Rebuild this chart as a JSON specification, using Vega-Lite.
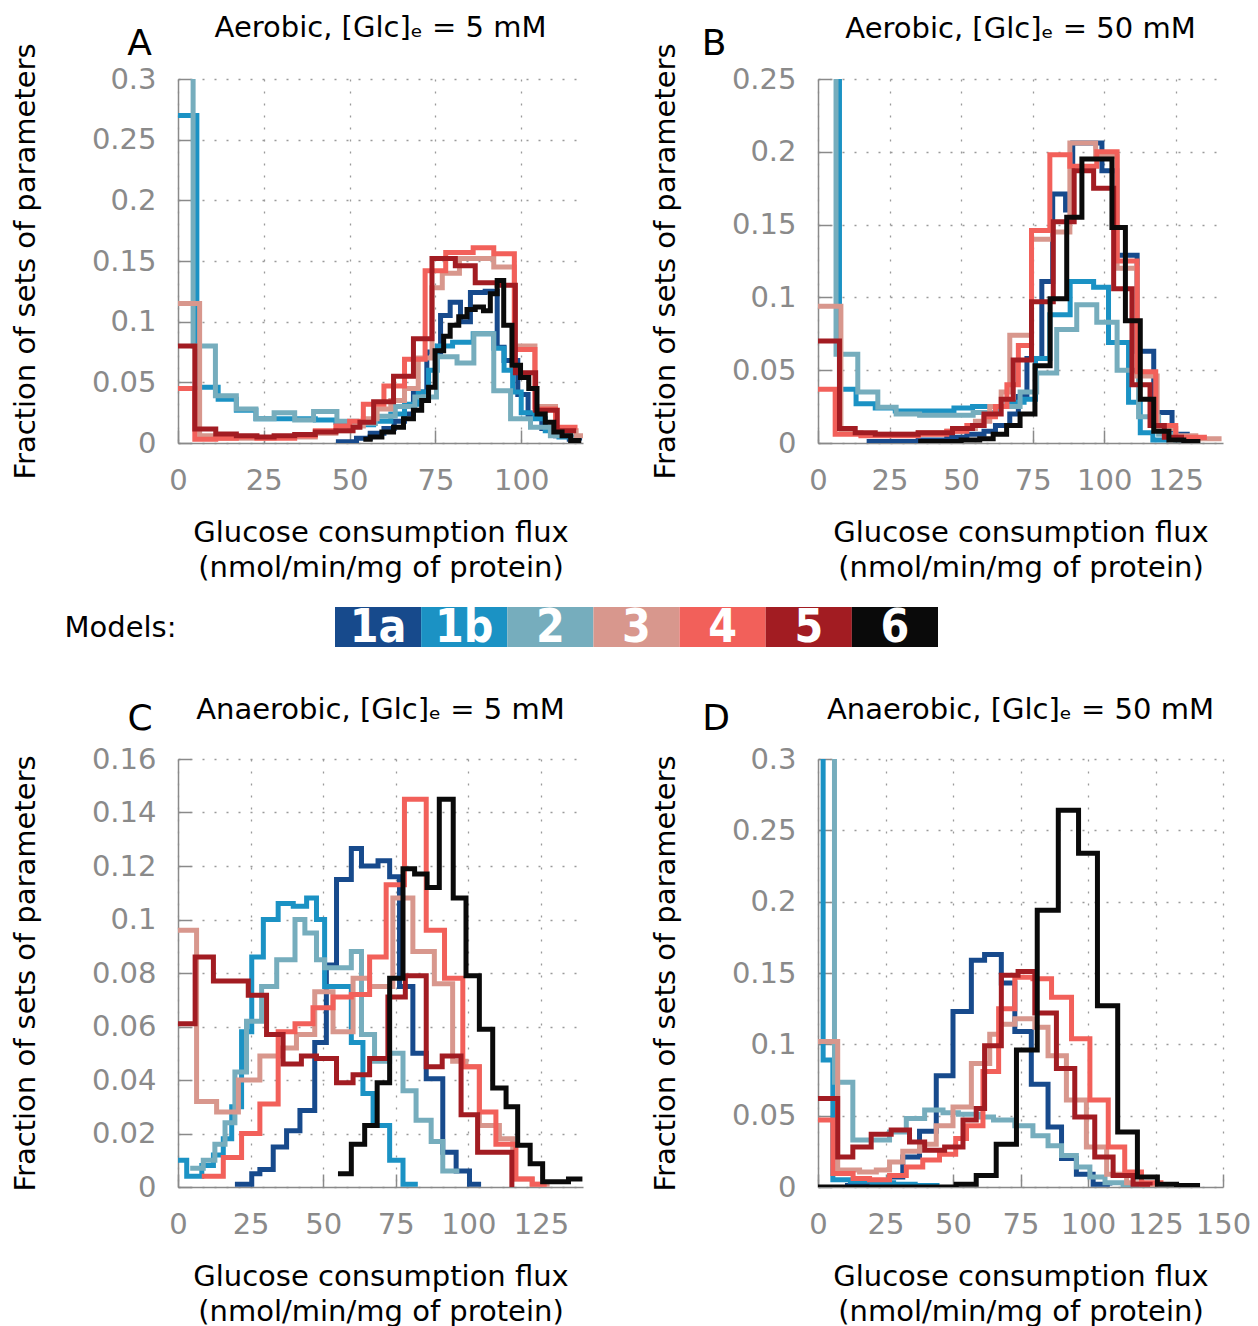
{
  "$schema": "https://vega.github.io/schema/vega-lite/v6.json",
  "background": "white",
  "padding": {"left": 11, "top": 14, "right": 5, "bottom": 5},
  "bounds": "flush",
  "columns": 2,
  "spacing": {"row": 112, "column": 235},
  "config": {
    "view": {"stroke": null},
    "font": "DejaVu Sans",
    "title": {"fontSize": 29, "fontWeight": "normal", "font": "DejaVu Sans", "color": "#000", "anchor": "middle"},
    "axis": {
      "domainColor": "#8a8a8a", "domainWidth": 1.5,
      "tickColor": "#8a8a8a", "tickWidth": 1.5, "tickSize": -13,
      "labelColor": "#8a8a8a", "labelFontSize": 29, "labelFont": "DejaVu Sans", "labelFlush": false, "labelOverlap": false,
      "titleFontSize": 29, "titleFont": "DejaVu Sans", "titleFontWeight": "normal", "titleColor": "#000",
      "grid": true, "gridColor": "#9a9a9a", "gridDash": [2, 10], "gridWidth": 1.3
    },
    "axisX": {"labelPadding": 36, "labelDx": 5, "titlePadding": 23, "titleLineHeight": 35},
    "axisY": {"labelPadding": 35, "titlePadding": 51}
  },
  "datasets": {
    "models": [{"m": "1a"}, {"m": "1b"}, {"m": "2"}, {"m": "3"}, {"m": "4"}, {"m": "5"}, {"m": "6"}],
    "A": [
      {"m":"1a","x":46,"y":0.001},{"m":"1a","x":52,"y":0.004},{"m":"1a","x":56,"y":0.008},{"m":"1a","x":60,"y":0.012},{"m":"1a","x":63,"y":0.018},{"m":"1a","x":66,"y":0.024},{"m":"1a","x":68.6,"y":0.042},{"m":"1a","x":72.5,"y":0.075},{"m":"1a","x":76.5,"y":0.105},{"m":"1a","x":79.3,"y":0.116},{"m":"1a","x":82.3,"y":0.1},{"m":"1a","x":85.2,"y":0.124},{"m":"1a","x":89.5,"y":0.125},{"m":"1a","x":93,"y":0.079},{"m":"1a","x":95,"y":0.068},{"m":"1a","x":99,"y":0.04},{"m":"1a","x":102,"y":0.021},{"m":"1a","x":106,"y":0.012},{"m":"1a","x":110,"y":0.006},{"m":"1a","x":114,"y":0.003},{"m":"1a","x":117,"y":0.002},
      {"m":"1b","x":0,"y":0.27},{"m":"1b","x":5.5,"y":0.046},{"m":"1b","x":11.7,"y":0.036},{"m":"1b","x":17,"y":0.027},{"m":"1b","x":22.7,"y":0.02},{"m":"1b","x":28,"y":0.02},{"m":"1b","x":34,"y":0.02},{"m":"1b","x":40,"y":0.019},{"m":"1b","x":46,"y":0.017},{"m":"1b","x":52,"y":0.015},{"m":"1b","x":57,"y":0.018},{"m":"1b","x":62,"y":0.024},{"m":"1b","x":66,"y":0.032},{"m":"1b","x":70,"y":0.042},{"m":"1b","x":73,"y":0.06},{"m":"1b","x":75.5,"y":0.08},{"m":"1b","x":80,"y":0.083},{"m":"1b","x":86,"y":0.09},{"m":"1b","x":92,"y":0.078},{"m":"1b","x":95,"y":0.06},{"m":"1b","x":97.5,"y":0.042},{"m":"1b","x":100,"y":0.025},{"m":"1b","x":104,"y":0.02},{"m":"1b","x":107,"y":0.01},{"m":"1b","x":111,"y":0.005},{"m":"1b","x":115,"y":0.002},{"m":"1b","x":117,"y":0.002},
      {"m":"2","x":0,"y":0.5},{"m":"2","x":4.4,"y":0.08},{"m":"2","x":10.9,"y":0.039},{"m":"2","x":17,"y":0.028},{"m":"2","x":22.7,"y":0.02},{"m":"2","x":28,"y":0.025},{"m":"2","x":34,"y":0.019},{"m":"2","x":39.5,"y":0.026},{"m":"2","x":46.3,"y":0.018},{"m":"2","x":52,"y":0.016},{"m":"2","x":57.5,"y":0.022},{"m":"2","x":63.3,"y":0.03},{"m":"2","x":69,"y":0.038},{"m":"2","x":75.3,"y":0.071},{"m":"2","x":81.3,"y":0.066},{"m":"2","x":86.2,"y":0.09},{"m":"2","x":92,"y":0.043},{"m":"2","x":96.9,"y":0.02},{"m":"2","x":102.7,"y":0.013},{"m":"2","x":108.5,"y":0.006},{"m":"2","x":114.4,"y":0.003},{"m":"2","x":116.5,"y":0.003},
      {"m":"3","x":0,"y":0.115},{"m":"3","x":6.3,"y":0.006},{"m":"3","x":11,"y":0.004},{"m":"3","x":17,"y":0.004},{"m":"3","x":28,"y":0.005},{"m":"3","x":40,"y":0.008},{"m":"3","x":46,"y":0.01},{"m":"3","x":50,"y":0.014},{"m":"3","x":54,"y":0.02},{"m":"3","x":58,"y":0.028},{"m":"3","x":62,"y":0.035},{"m":"3","x":66,"y":0.045},{"m":"3","x":70,"y":0.07},{"m":"3","x":74,"y":0.128},{"m":"3","x":77,"y":0.14},{"m":"3","x":82,"y":0.152},{"m":"3","x":88,"y":0.152},{"m":"3","x":92,"y":0.145},{"m":"3","x":98,"y":0.08},{"m":"3","x":104,"y":0.03},{"m":"3","x":110,"y":0.01},{"m":"3","x":116,"y":0.006},{"m":"3","x":118,"y":0.006},
      {"m":"4","x":0,"y":0.045},{"m":"4","x":4.9,"y":0.003},{"m":"4","x":11,"y":0.004},{"m":"4","x":17,"y":0.005},{"m":"4","x":23,"y":0.004},{"m":"4","x":28,"y":0.004},{"m":"4","x":34,"y":0.006},{"m":"4","x":40,"y":0.01},{"m":"4","x":46,"y":0.014},{"m":"4","x":50,"y":0.018},{"m":"4","x":54,"y":0.032},{"m":"4","x":60,"y":0.047},{"m":"4","x":66,"y":0.069},{"m":"4","x":72,"y":0.142},{"m":"4","x":78,"y":0.157},{"m":"4","x":86,"y":0.161},{"m":"4","x":92,"y":0.156},{"m":"4","x":98,"y":0.077},{"m":"4","x":104,"y":0.028},{"m":"4","x":110,"y":0.013},{"m":"4","x":116.4,"y":0.013},
      {"m":"5","x":0,"y":0.08},{"m":"5","x":4.9,"y":0.0115},{"m":"5","x":11,"y":0.0075},{"m":"5","x":17,"y":0.006},{"m":"5","x":23,"y":0.005},{"m":"5","x":28,"y":0.006},{"m":"5","x":34,"y":0.007},{"m":"5","x":40,"y":0.009},{"m":"5","x":46,"y":0.01},{"m":"5","x":51,"y":0.013},{"m":"5","x":53,"y":0.017},{"m":"5","x":57,"y":0.034},{"m":"5","x":62.8,"y":0.055},{"m":"5","x":68.6,"y":0.086},{"m":"5","x":74,"y":0.152},{"m":"5","x":80.8,"y":0.146},{"m":"5","x":86.6,"y":0.132},{"m":"5","x":93,"y":0.13},{"m":"5","x":98.3,"y":0.058},{"m":"5","x":104.2,"y":0.027},{"m":"5","x":110.5,"y":0.01},{"m":"5","x":116,"y":0.01},
      {"m":"6","x":54,"y":0.003},{"m":"6","x":56,"y":0.005},{"m":"6","x":59.4,"y":0.009},{"m":"6","x":62.8,"y":0.013},{"m":"6","x":65.7,"y":0.02},{"m":"6","x":68.6,"y":0.027},{"m":"6","x":71,"y":0.035},{"m":"6","x":73,"y":0.046},{"m":"6","x":74.9,"y":0.076},{"m":"6","x":77.4,"y":0.088},{"m":"6","x":79.3,"y":0.097},{"m":"6","x":81.8,"y":0.104},{"m":"6","x":84.2,"y":0.11},{"m":"6","x":86.6,"y":0.112},{"m":"6","x":89,"y":0.109},{"m":"6","x":91,"y":0.123},{"m":"6","x":93,"y":0.134},{"m":"6","x":94.9,"y":0.097},{"m":"6","x":97.3,"y":0.064},{"m":"6","x":99.8,"y":0.054},{"m":"6","x":102.2,"y":0.045},{"m":"6","x":104.6,"y":0.024},{"m":"6","x":107,"y":0.017},{"m":"6","x":109.5,"y":0.009},{"m":"6","x":111.9,"y":0.006},{"m":"6","x":114.4,"y":0.002},{"m":"6","x":117.5,"y":0.002}
    ],
    "B": [
      {"m":"1a","x":17,"y":0.001},{"m":"1a","x":35,"y":0.002},{"m":"1a","x":45,"y":0.004},{"m":"1a","x":52,"y":0.006},{"m":"1a","x":58,"y":0.008},{"m":"1a","x":62,"y":0.012},{"m":"1a","x":67,"y":0.02},{"m":"1a","x":70,"y":0.032},{"m":"1a","x":73,"y":0.058},{"m":"1a","x":78.2,"y":0.111},{"m":"1a","x":82,"y":0.171},{"m":"1a","x":86.5,"y":0.16},{"m":"1a","x":89,"y":0.206},{"m":"1a","x":99.2,"y":0.187},{"m":"1a","x":104.4,"y":0.129},{"m":"1a","x":111.5,"y":0.063},{"m":"1a","x":117.3,"y":0.021},{"m":"1a","x":123.7,"y":0.006},{"m":"1a","x":129,"y":0.002},{"m":"1a","x":133,"y":0.002},
      {"m":"1b","x":0,"y":0.5},{"m":"1b","x":7.5,"y":0.037},{"m":"1b","x":13.3,"y":0.027},{"m":"1b","x":20,"y":0.024},{"m":"1b","x":27,"y":0.022},{"m":"1b","x":35,"y":0.022},{"m":"1b","x":42,"y":0.022},{"m":"1b","x":47.5,"y":0.024},{"m":"1b","x":54,"y":0.025},{"m":"1b","x":60,"y":0.025},{"m":"1b","x":66,"y":0.028},{"m":"1b","x":72,"y":0.03},{"m":"1b","x":76,"y":0.058},{"m":"1b","x":81,"y":0.088},{"m":"1b","x":88.1,"y":0.111},{"m":"1b","x":96.3,"y":0.107},{"m":"1b","x":101.5,"y":0.069},{"m":"1b","x":108.5,"y":0.028},{"m":"1b","x":112.6,"y":0.007},{"m":"1b","x":117,"y":0.002},{"m":"1b","x":122,"y":0.002},
      {"m":"2","x":0,"y":0.5},{"m":"2","x":6.3,"y":0.061},{"m":"2","x":13.9,"y":0.035},{"m":"2","x":20.9,"y":0.0245},{"m":"2","x":27.3,"y":0.02},{"m":"2","x":35.5,"y":0.019},{"m":"2","x":45,"y":0.019},{"m":"2","x":54.2,"y":0.021},{"m":"2","x":62.4,"y":0.025},{"m":"2","x":70.6,"y":0.035},{"m":"2","x":76.4,"y":0.048},{"m":"2","x":83.4,"y":0.078},{"m":"2","x":90.4,"y":0.095},{"m":"2","x":97.4,"y":0.083},{"m":"2","x":104.5,"y":0.05},{"m":"2","x":112,"y":0.018},{"m":"2","x":119,"y":0.006},{"m":"2","x":125,"y":0.002},{"m":"2","x":128,"y":0.002},
      {"m":"3","x":0,"y":0.094},{"m":"3","x":8,"y":0.007},{"m":"3","x":15,"y":0.006},{"m":"3","x":25,"y":0.006},{"m":"3","x":35,"y":0.007},{"m":"3","x":45,"y":0.008},{"m":"3","x":50,"y":0.01},{"m":"3","x":55,"y":0.015},{"m":"3","x":60,"y":0.025},{"m":"3","x":64,"y":0.035},{"m":"3","x":67,"y":0.074},{"m":"3","x":74.6,"y":0.14},{"m":"3","x":82,"y":0.145},{"m":"3","x":88,"y":0.206},{"m":"3","x":97,"y":0.197},{"m":"3","x":104.5,"y":0.12},{"m":"3","x":111.5,"y":0.046},{"m":"3","x":118.5,"y":0.01},{"m":"3","x":125,"y":0.005},{"m":"3","x":132,"y":0.003},{"m":"3","x":141,"y":0.003},
      {"m":"4","x":0,"y":0.037},{"m":"4","x":6,"y":0.006},{"m":"4","x":15,"y":0.005},{"m":"4","x":25,"y":0.005},{"m":"4","x":35,"y":0.006},{"m":"4","x":45,"y":0.008},{"m":"4","x":52,"y":0.012},{"m":"4","x":58,"y":0.018},{"m":"4","x":62,"y":0.025},{"m":"4","x":66,"y":0.04},{"m":"4","x":70,"y":0.067},{"m":"4","x":74.6,"y":0.146},{"m":"4","x":81,"y":0.198},{"m":"4","x":88,"y":0.19},{"m":"4","x":92,"y":0.19},{"m":"4","x":97.4,"y":0.2},{"m":"4","x":104.5,"y":0.125},{"m":"4","x":111.5,"y":0.049},{"m":"4","x":118,"y":0.012},{"m":"4","x":125,"y":0.004},{"m":"4","x":135,"y":0.002},
      {"m":"5","x":0,"y":0.07},{"m":"5","x":7.5,"y":0.01},{"m":"5","x":13,"y":0.007},{"m":"5","x":20,"y":0.006},{"m":"5","x":27,"y":0.006},{"m":"5","x":35,"y":0.007},{"m":"5","x":47,"y":0.01},{"m":"5","x":54,"y":0.012},{"m":"5","x":58,"y":0.02},{"m":"5","x":64,"y":0.03},{"m":"5","x":68.2,"y":0.057},{"m":"5","x":74.6,"y":0.097},{"m":"5","x":82.2,"y":0.152},{"m":"5","x":89.5,"y":0.187},{"m":"5","x":96.3,"y":0.175},{"m":"5","x":103.3,"y":0.106},{"m":"5","x":109.7,"y":0.04},{"m":"5","x":116,"y":0.012},{"m":"5","x":121,"y":0.004},{"m":"5","x":127,"y":0.002},
      {"m":"6","x":35,"y":0.001},{"m":"6","x":50,"y":0.002},{"m":"6","x":56.5,"y":0.003},{"m":"6","x":61.2,"y":0.006},{"m":"6","x":65.9,"y":0.012},{"m":"6","x":70.6,"y":0.02},{"m":"6","x":75.8,"y":0.053},{"m":"6","x":81.1,"y":0.099},{"m":"6","x":86.9,"y":0.155},{"m":"6","x":92.2,"y":0.195},{"m":"6","x":102.7,"y":0.148},{"m":"6","x":107.4,"y":0.084},{"m":"6","x":112.6,"y":0.03},{"m":"6","x":117.3,"y":0.008},{"m":"6","x":122.6,"y":0.002},{"m":"6","x":127.8,"y":0.001},{"m":"6","x":133.6,"y":0.001}
    ],
    "C": [
      {"m":"1a","x":19.6,"y":0.001},{"m":"1a","x":25.4,"y":0.005},{"m":"1a","x":28.2,"y":0.0065},{"m":"1a","x":32.8,"y":0.015},{"m":"1a","x":37.4,"y":0.021},{"m":"1a","x":42,"y":0.0286},{"m":"1a","x":47.1,"y":0.054},{"m":"1a","x":51.1,"y":0.083},{"m":"1a","x":54.6,"y":0.115},{"m":"1a","x":59.7,"y":0.1265},{"m":"1a","x":63.2,"y":0.12},{"m":"1a","x":68.9,"y":0.122},{"m":"1a","x":72.9,"y":0.116},{"m":"1a","x":76.3,"y":0.075},{"m":"1a","x":80.9,"y":0.05},{"m":"1a","x":85.5,"y":0.0405},{"m":"1a","x":91.2,"y":0.013},{"m":"1a","x":95.8,"y":0.006},{"m":"1a","x":100.4,"y":0.001},{"m":"1a","x":104.4,"y":0.001},
      {"m":"1b","x":0,"y":0.01},{"m":"1b","x":3,"y":0.004},{"m":"1b","x":8.2,"y":0.008},{"m":"1b","x":12.2,"y":0.012},{"m":"1b","x":15.6,"y":0.018},{"m":"1b","x":18.5,"y":0.03},{"m":"1b","x":21.9,"y":0.058},{"m":"1b","x":25.4,"y":0.086},{"m":"1b","x":29.4,"y":0.1},{"m":"1b","x":34.5,"y":0.106},{"m":"1b","x":39.7,"y":0.105},{"m":"1b","x":44.3,"y":0.108},{"m":"1b","x":47.7,"y":0.1},{"m":"1b","x":50.5,"y":0.075},{"m":"1b","x":59.7,"y":0.054},{"m":"1b","x":63.7,"y":0.035},{"m":"1b","x":67.2,"y":0.023},{"m":"1b","x":72.9,"y":0.01},{"m":"1b","x":77.5,"y":0.001},{"m":"1b","x":82.6,"y":0.001},
      {"m":"2","x":4.2,"y":0.007},{"m":"2","x":8.7,"y":0.01},{"m":"2","x":12.7,"y":0.016},{"m":"2","x":16.2,"y":0.024},{"m":"2","x":19.6,"y":0.043},{"m":"2","x":23.6,"y":0.062},{"m":"2","x":28.8,"y":0.075},{"m":"2","x":34,"y":0.085},{"m":"2","x":40.3,"y":0.1},{"m":"2","x":43.7,"y":0.095},{"m":"2","x":47.7,"y":0.085},{"m":"2","x":50.5,"y":0.082},{"m":"2","x":59.7,"y":0.088},{"m":"2","x":63.2,"y":0.057},{"m":"2","x":67.7,"y":0.047},{"m":"2","x":72.9,"y":0.05},{"m":"2","x":77.5,"y":0.036},{"m":"2","x":82,"y":0.025},{"m":"2","x":87.2,"y":0.017},{"m":"2","x":91.2,"y":0.006},{"m":"2","x":96.9,"y":0.006},
      {"m":"3","x":0,"y":0.096},{"m":"3","x":6.4,"y":0.032},{"m":"3","x":13.3,"y":0.028},{"m":"3","x":20.8,"y":0.04},{"m":"3","x":28.2,"y":0.049},{"m":"3","x":35.1,"y":0.052},{"m":"3","x":40.8,"y":0.057},{"m":"3","x":47.1,"y":0.073},{"m":"3","x":53.4,"y":0.058},{"m":"3","x":60.3,"y":0.078},{"m":"3","x":66,"y":0.075},{"m":"3","x":74,"y":0.108},{"m":"3","x":80.9,"y":0.088},{"m":"3","x":88.3,"y":0.076},{"m":"3","x":94.6,"y":0.047},{"m":"3","x":99.2,"y":0.045},{"m":"3","x":103.8,"y":0.023},{"m":"3","x":110.7,"y":0.018},{"m":"3","x":115.3,"y":0.003},{"m":"3","x":122,"y":0.001},{"m":"3","x":128,"y":0.001},
      {"m":"4","x":8.2,"y":0.004},{"m":"4","x":15.6,"y":0.011},{"m":"4","x":21.9,"y":0.02},{"m":"4","x":28.2,"y":0.031},{"m":"4","x":34.5,"y":0.058},{"m":"4","x":40.3,"y":0.061},{"m":"4","x":46.5,"y":0.067},{"m":"4","x":53.4,"y":0.071},{"m":"4","x":59.7,"y":0.072},{"m":"4","x":66,"y":0.086},{"m":"4","x":71.7,"y":0.113},{"m":"4","x":78,"y":0.145},{"m":"4","x":85.5,"y":0.096},{"m":"4","x":91.8,"y":0.078},{"m":"4","x":98.1,"y":0.045},{"m":"4","x":103.8,"y":0.028},{"m":"4","x":109.5,"y":0.016},{"m":"4","x":116.4,"y":0.003},{"m":"4","x":122,"y":0.001},{"m":"4","x":127,"y":0.001},
      {"m":"5","x":0,"y":0.061},{"m":"5","x":5.9,"y":0.086},{"m":"5","x":12.2,"y":0.077},{"m":"5","x":24.2,"y":0.0717},{"m":"5","x":30.5,"y":0.057},{"m":"5","x":36.2,"y":0.046},{"m":"5","x":42.5,"y":0.049},{"m":"5","x":47.7,"y":0.048},{"m":"5","x":54.6,"y":0.039},{"m":"5","x":60.3,"y":0.042},{"m":"5","x":66,"y":0.048},{"m":"5","x":72.3,"y":0.071},{"m":"5","x":78.3,"y":0.079},{"m":"5","x":85.5,"y":0.045},{"m":"5","x":91,"y":0.049},{"m":"5","x":97.5,"y":0.027},{"m":"5","x":103.2,"y":0.013},{"m":"5","x":115,"y":0},
      {"m":"6","x":55.1,"y":0.005},{"m":"6","x":59.7,"y":0.016},{"m":"6","x":64.3,"y":0.023},{"m":"6","x":68.6,"y":0.039},{"m":"6","x":72.9,"y":0.078},{"m":"6","x":77.5,"y":0.119},{"m":"6","x":81.5,"y":0.117},{"m":"6","x":85.8,"y":0.112},{"m":"6","x":90,"y":0.145},{"m":"6","x":94.8,"y":0.108},{"m":"6","x":99.2,"y":0.079},{"m":"6","x":103.8,"y":0.059},{"m":"6","x":108.4,"y":0.037},{"m":"6","x":113,"y":0.03},{"m":"6","x":117,"y":0.0156},{"m":"6","x":121.3,"y":0.0087},{"m":"6","x":125.6,"y":0.002},{"m":"6","x":130.2,"y":0.002},{"m":"6","x":134.5,"y":0.003},{"m":"6","x":139.3,"y":0.003}
    ],
    "D": [
      {"m":"1a","x":10,"y":0.001},{"m":"1a","x":21.6,"y":0.002},{"m":"1a","x":26.5,"y":0.007},{"m":"1a","x":31.4,"y":0.021},{"m":"1a","x":37.6,"y":0.039},{"m":"1a","x":43.8,"y":0.078},{"m":"1a","x":50,"y":0.123},{"m":"1a","x":56.8,"y":0.159},{"m":"1a","x":61.7,"y":0.163},{"m":"1a","x":67.9,"y":0.143},{"m":"1a","x":72.9,"y":0.109},{"m":"1a","x":79,"y":0.072},{"m":"1a","x":85.2,"y":0.042},{"m":"1a","x":90.2,"y":0.02},{"m":"1a","x":95.7,"y":0.009},{"m":"1a","x":101.9,"y":0.002},{"m":"1a","x":108.1,"y":0.001},
      {"m":"1b","x":0,"y":0.5},{"m":"1b","x":1.9,"y":0.089},{"m":"1b","x":5.5,"y":0.005},{"m":"1b","x":12,"y":0.004},{"m":"1b","x":20,"y":0.003},{"m":"1b","x":28,"y":0.002},{"m":"1b","x":36,"y":0.001},{"m":"1b","x":45,"y":0.001},
      {"m":"2","x":0,"y":0.5},{"m":"2","x":6.1,"y":0.0735},{"m":"2","x":12.9,"y":0.033},{"m":"2","x":19.1,"y":0.033},{"m":"2","x":26.5,"y":0.0385},{"m":"2","x":32.7,"y":0.048},{"m":"2","x":39.5,"y":0.054},{"m":"2","x":46.3,"y":0.052},{"m":"2","x":52,"y":0.051},{"m":"2","x":59.9,"y":0.049},{"m":"2","x":65,"y":0.047},{"m":"2","x":72.9,"y":0.043},{"m":"2","x":79.6,"y":0.036},{"m":"2","x":85.2,"y":0.029},{"m":"2","x":90.2,"y":0.022},{"m":"2","x":95.7,"y":0.014},{"m":"2","x":100.7,"y":0.007},{"m":"2","x":106.3,"y":0.003},{"m":"2","x":113,"y":0.001},{"m":"2","x":119,"y":0.001},
      {"m":"3","x":0,"y":0.102},{"m":"3","x":7.3,"y":0.012},{"m":"3","x":15.4,"y":0.0105},{"m":"3","x":21.6,"y":0.012},{"m":"3","x":26.5,"y":0.0175},{"m":"3","x":31.4,"y":0.025},{"m":"3","x":37.6,"y":0.03},{"m":"3","x":43.8,"y":0.043},{"m":"3","x":50,"y":0.056},{"m":"3","x":56.8,"y":0.0865},{"m":"3","x":63.6,"y":0.107},{"m":"3","x":67.3,"y":0.114},{"m":"3","x":72.9,"y":0.118},{"m":"3","x":80.3,"y":0.112},{"m":"3","x":85.2,"y":0.092},{"m":"3","x":92,"y":0.061},{"m":"3","x":99.4,"y":0.028},{"m":"3","x":106.9,"y":0.009},{"m":"3","x":114.3,"y":0.003},{"m":"3","x":120,"y":0.001},{"m":"3","x":126,"y":0.001},
      {"m":"4","x":0,"y":0.047},{"m":"4","x":5.5,"y":0.0094},{"m":"4","x":13,"y":0.006},{"m":"4","x":19.1,"y":0.005},{"m":"4","x":26.5,"y":0.008},{"m":"4","x":32.7,"y":0.014},{"m":"4","x":38.8,"y":0.019},{"m":"4","x":45,"y":0.023},{"m":"4","x":51,"y":0.034},{"m":"4","x":55,"y":0.043},{"m":"4","x":61.1,"y":0.081},{"m":"4","x":66.9,"y":0.125},{"m":"4","x":72.9,"y":0.147},{"m":"4","x":79.6,"y":0.146},{"m":"4","x":86.5,"y":0.133},{"m":"4","x":93.9,"y":0.104},{"m":"4","x":100.7,"y":0.061},{"m":"4","x":107.5,"y":0.028},{"m":"4","x":113.6,"y":0.0105},{"m":"4","x":119.8,"y":0.003},{"m":"4","x":127,"y":0.001},
      {"m":"5","x":0,"y":0.062},{"m":"5","x":7.3,"y":0.021},{"m":"5","x":12.9,"y":0.028},{"m":"5","x":19.7,"y":0.037},{"m":"5","x":27.1,"y":0.04},{"m":"5","x":33.9,"y":0.0316},{"m":"5","x":39.5,"y":0.0257},{"m":"5","x":46.9,"y":0.028},{"m":"5","x":53.7,"y":0.047},{"m":"5","x":58.6,"y":0.055},{"m":"5","x":61.7,"y":0.099},{"m":"5","x":67.9,"y":0.1485},{"m":"5","x":74.1,"y":0.151},{"m":"5","x":80.3,"y":0.122},{"m":"5","x":88.3,"y":0.083},{"m":"5","x":95.1,"y":0.049},{"m":"5","x":102.5,"y":0.021},{"m":"5","x":109.3,"y":0.008},{"m":"5","x":116.7,"y":0.002},{"m":"5","x":123,"y":0.001},
      {"m":"6","x":0,"y":0},{"m":"6","x":51.2,"y":0.002},{"m":"6","x":58.6,"y":0.008},{"m":"6","x":66,"y":0.03},{"m":"6","x":73.5,"y":0.096},{"m":"6","x":81.2,"y":0.194},{"m":"6","x":89,"y":0.264},{"m":"6","x":96.5,"y":0.234},{"m":"6","x":103.5,"y":0.127},{"m":"6","x":111,"y":0.0386},{"m":"6","x":118.3,"y":0.007},{"m":"6","x":125.7,"y":0.002},{"m":"6","x":132.8,"y":0.001},{"m":"6","x":141.5,"y":0.001}
    ]
  },
  "concat": [
    {
      "width": 405, "height": 364,
      "title": {"text": "Aerobic, [Glc]ₑ = 5 mM", "offset": -17.5},
      "data": {"name": "A"},
      "layer": [
        {
          "mark": {"type": "line", "interpolate": "step-after", "strokeWidth": 5, "clip": true},
          "encoding": {
            "x": {"field": "x", "type": "quantitative", "scale": {"domain": [0, 118], "nice": false, "zero": false}, "axis": {"values": [0, 25, 50, 75, 100], "title": ["Glucose consumption flux", "(nmol/min/mg of protein)"]}},
            "y": {"field": "y", "type": "quantitative", "scale": {"domain": [0, 0.3], "nice": false}, "axis": {"values": [0, 0.05, 0.1, 0.15, 0.2, 0.25, 0.3], "format": ".2~f", "title": "Fraction of sets of parameters"}},
            "color": {"field": "m", "type": "nominal", "scale": {"domain": ["1a", "1b", "2", "3", "4", "5", "6"], "range": ["#174a8c", "#1b92c4", "#76adbd", "#d8978d", "#f2605a", "#a21c22", "#0a0a0a"]}, "legend": null}
          }
        },
        {
          "data": {"values": [{"label": "A"}]},
          "mark": {"type": "text", "fontSize": 36, "align": "center", "baseline": "middle", "color": "#000"},
          "encoding": {"x": {"datum": -11.2}, "y": {"datum": 0.329}, "text": {"field": "label"}}
        }
      ]
    },
    {
      "width": 405, "height": 364,
      "title": {"text": "Aerobic, [Glc]ₑ = 50 mM", "offset": -17.5},
      "data": {"name": "B"},
      "layer": [
        {
          "mark": {"type": "line", "interpolate": "step-after", "strokeWidth": 5, "clip": true},
          "encoding": {
            "x": {"field": "x", "type": "quantitative", "scale": {"domain": [0, 141.5], "nice": false, "zero": false}, "axis": {"values": [0, 25, 50, 75, 100, 125], "title": ["Glucose consumption flux", "(nmol/min/mg of protein)"]}},
            "y": {"field": "y", "type": "quantitative", "scale": {"domain": [0, 0.25], "nice": false}, "axis": {"values": [0, 0.05, 0.1, 0.15, 0.2, 0.25], "format": ".2~f", "title": "Fraction of sets of parameters"}},
            "color": {"field": "m", "type": "nominal", "scale": {"domain": ["1a", "1b", "2", "3", "4", "5", "6"], "range": ["#174a8c", "#1b92c4", "#76adbd", "#d8978d", "#f2605a", "#a21c22", "#0a0a0a"]}, "legend": null}
          }
        },
        {
          "data": {"values": [{"label": "B"}]},
          "mark": {"type": "text", "fontSize": 36, "align": "center", "baseline": "middle", "color": "#000"},
          "encoding": {"x": {"datum": -36.3}, "y": {"datum": 0.274}, "text": {"field": "label"}}
        }
      ]
    },
    {
      "width": 405, "height": 92,
      "data": {"name": "models"},
      "layer": [
        {
          "mark": {"type": "rect"},
          "encoding": {
            "x": {"field": "m", "type": "nominal", "scale": {"type": "band", "domain": ["1a", "1b", "2", "3", "4", "5", "6"], "range": [157, 760], "paddingInner": 0, "paddingOuter": 0}, "axis": null},
            "y": {"datum": 0, "type": "quantitative", "scale": {"domain": [0, 92], "nice": false}, "axis": {"title": "Models:", "titleAngle": 0, "titleAlign": "right", "titleBaseline": "middle", "titleX": -2, "titleY": 72, "titleFontSize": 29, "titleColor": "#000", "labels": false, "ticks": false, "domain": false, "grid": false}},
            "y2": {"datum": 40},
            "color": {"field": "m", "type": "nominal", "scale": {"domain": ["1a", "1b", "2", "3", "4", "5", "6"], "range": ["#174a8c", "#1b92c4", "#76adbd", "#d8978d", "#f2605a", "#a21c22", "#0a0a0a"]}, "legend": null}
          }
        },
        {
          "mark": {"type": "text", "fontSize": 46, "fontWeight": "bold", "font": "DejaVu Sans Condensed", "color": "white", "align": "center", "baseline": "middle", "dy": 1},
          "encoding": {
            "x": {"field": "m", "type": "nominal"},
            "y": {"datum": 20, "type": "quantitative"},
            "text": {"field": "m"}
          }
        }
      ]
    },
    {
      "width": 405, "height": 92,
      "data": {"values": [{"t": ""}]},
      "mark": {"type": "text"},
      "encoding": {"text": {"field": "t"}}
    },
    {
      "width": 405, "height": 428,
      "title": {"text": "Anaerobic, [Glc]ₑ = 5 mM", "offset": -24},
      "data": {"name": "C"},
      "layer": [
        {
          "mark": {"type": "line", "interpolate": "step-after", "strokeWidth": 5, "clip": true},
          "encoding": {
            "x": {"field": "x", "type": "quantitative", "scale": {"domain": [0, 139.5], "nice": false, "zero": false}, "axis": {"values": [0, 25, 50, 75, 100, 125], "title": ["Glucose consumption flux", "(nmol/min/mg of protein)"]}},
            "y": {"field": "y", "type": "quantitative", "scale": {"domain": [0, 0.16], "nice": false}, "axis": {"values": [0, 0.02, 0.04, 0.06, 0.08, 0.1, 0.12, 0.14, 0.16], "format": ".2~f", "title": "Fraction of sets of parameters"}},
            "color": {"field": "m", "type": "nominal", "scale": {"domain": ["1a", "1b", "2", "3", "4", "5", "6"], "range": ["#174a8c", "#1b92c4", "#76adbd", "#d8978d", "#f2605a", "#a21c22", "#0a0a0a"]}, "legend": null}
          }
        },
        {
          "data": {"values": [{"label": "C"}]},
          "mark": {"type": "text", "fontSize": 36, "align": "center", "baseline": "middle", "color": "#000"},
          "encoding": {"x": {"datum": -13.1}, "y": {"datum": 0.175}, "text": {"field": "label"}}
        }
      ]
    },
    {
      "width": 405, "height": 428,
      "title": {"text": "Anaerobic, [Glc]ₑ = 50 mM", "offset": -24},
      "data": {"name": "D"},
      "layer": [
        {
          "mark": {"type": "line", "interpolate": "step-after", "strokeWidth": 5, "clip": true},
          "encoding": {
            "x": {"field": "x", "type": "quantitative", "scale": {"domain": [0, 150], "nice": false, "zero": false}, "axis": {"values": [0, 25, 50, 75, 100, 125, 150], "title": ["Glucose consumption flux", "(nmol/min/mg of protein)"]}},
            "y": {"field": "y", "type": "quantitative", "scale": {"domain": [0, 0.3], "nice": false}, "axis": {"values": [0, 0.05, 0.1, 0.15, 0.2, 0.25, 0.3], "format": ".2~f", "title": "Fraction of sets of parameters"}},
            "color": {"field": "m", "type": "nominal", "scale": {"domain": ["1a", "1b", "2", "3", "4", "5", "6"], "range": ["#174a8c", "#1b92c4", "#76adbd", "#d8978d", "#f2605a", "#a21c22", "#0a0a0a"]}, "legend": null}
          }
        },
        {
          "data": {"values": [{"label": "D"}]},
          "mark": {"type": "text", "fontSize": 36, "align": "center", "baseline": "middle", "color": "#000"},
          "encoding": {"x": {"datum": -37.7}, "y": {"datum": 0.328}, "text": {"field": "label"}}
        }
      ]
    }
  ]
}
